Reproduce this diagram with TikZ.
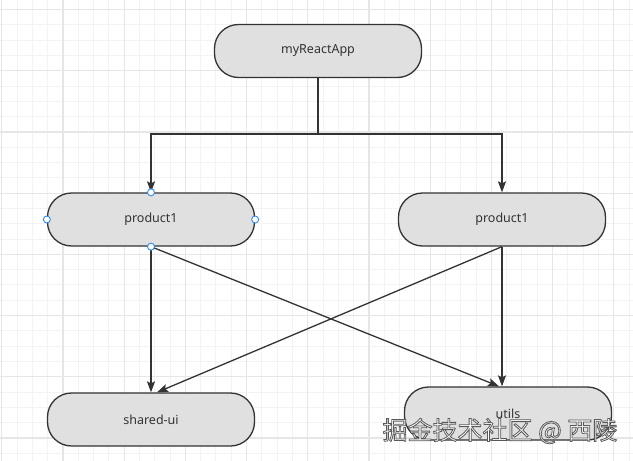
\documentclass[tikz,border=0pt]{standalone}
\usepackage{fontspec}
\setmainfont{Noto Sans}
\newfontfamily\cjkfont{Noto Sans CJK SC}
\usetikzlibrary{calc,arrows.meta}
\definecolor{boxfill}{HTML}{E0E0E0}
\definecolor{boxline}{HTML}{333333}
\definecolor{gridminor}{HTML}{F3F3F3}
\definecolor{gridmajor}{HTML}{E6E6E6}
\definecolor{handle}{HTML}{2D8CF0}
\newcommand{\outlinetext}[1]{\special{pdf:literal direct 0.35 0.35 0.35 RG 0.8 w 2 Tr}#1\special{pdf:literal direct 0 Tr}}
\tikzset{
	module/.style={draw=boxline,fill=boxfill,line width=1.3pt,rounded corners=24pt,
		minimum width=207pt,minimum height=53pt,inner sep=0pt,
		font=\fontsize{12.5}{14}\selectfont,text=boxline},
	dep/.style={draw=boxline,line width=1.3pt,-{Stealth[length=11pt,width=8pt,inset=2pt]}},
	handlept/.style={circle,draw=handle,fill=white,line width=0.9pt,minimum size=7pt,inner sep=0pt}
}
\begin{document}
\begin{tikzpicture}[x=1pt,y=-1pt]
		\useasboundingbox (0,0) rectangle (633,461);
		\fill[white] (0,0) rectangle (633,461);
		%grid
		\foreach \i in {0,1, ...,42}{
			\draw[gridminor,line width=1pt] ({1.7+15.3*\i},0) -- ({1.7+15.3*\i},461);
		}
		\foreach \i in {0,1, ...,30}{
			\draw[gridminor,line width=1pt] (0,{9.5+15.3*\i}) -- (633,{9.5+15.3*\i});
		}
		\foreach \i in {0,1, ...,10}{
			\draw[gridmajor,line width=1.2pt] ({1.7+61.2*\i},0) -- ({1.7+61.2*\i},461);
			\draw[gridmajor,line width=1.2pt] (0,{9.5+61.2*\i}) -- (633,{9.5+61.2*\i});
		}
		
		%modules
		\node[module] (app) at (318,51) {myReactApp};
		\node[module] (prodA) at (151,219.5) {product1};
		\node[module] (prodB) at (502,219.5) {product1};
		\node[module] (sharedui) at (151,419.5) {shared-ui};
		\node[module] (utils) at (508,413.5) {utils};
		
		%arrows:
		\coordinate (split) at (318,134);
		\draw[dep] (app.south) -- (split) -| (prodA.north);
		\draw[dep] (split) -| (prodB.north);
		\draw[dep] (prodA.south) -- (sharedui.north);
		\draw[dep] (prodA.south) -- ($(utils.north)+(-9,0)$);
		\draw[dep] (prodB.south) -- ($(sharedui.north)+(6,0)$);
		\draw[dep] (prodB.south) -- (utils.north -| prodB.south);
		
		%selection handles
		\foreach \a in {north,south,east,west}{
			\node[handlept] at (prodA.\a) {};
		}
		
		%watermark
		\node[text=white,font=\cjkfont\fontsize{25}{27}\selectfont] (mark) at (500,431) {\outlinetext{掘金技术社区 @ 西陵}};
		
\end{tikzpicture}
\end{document}
